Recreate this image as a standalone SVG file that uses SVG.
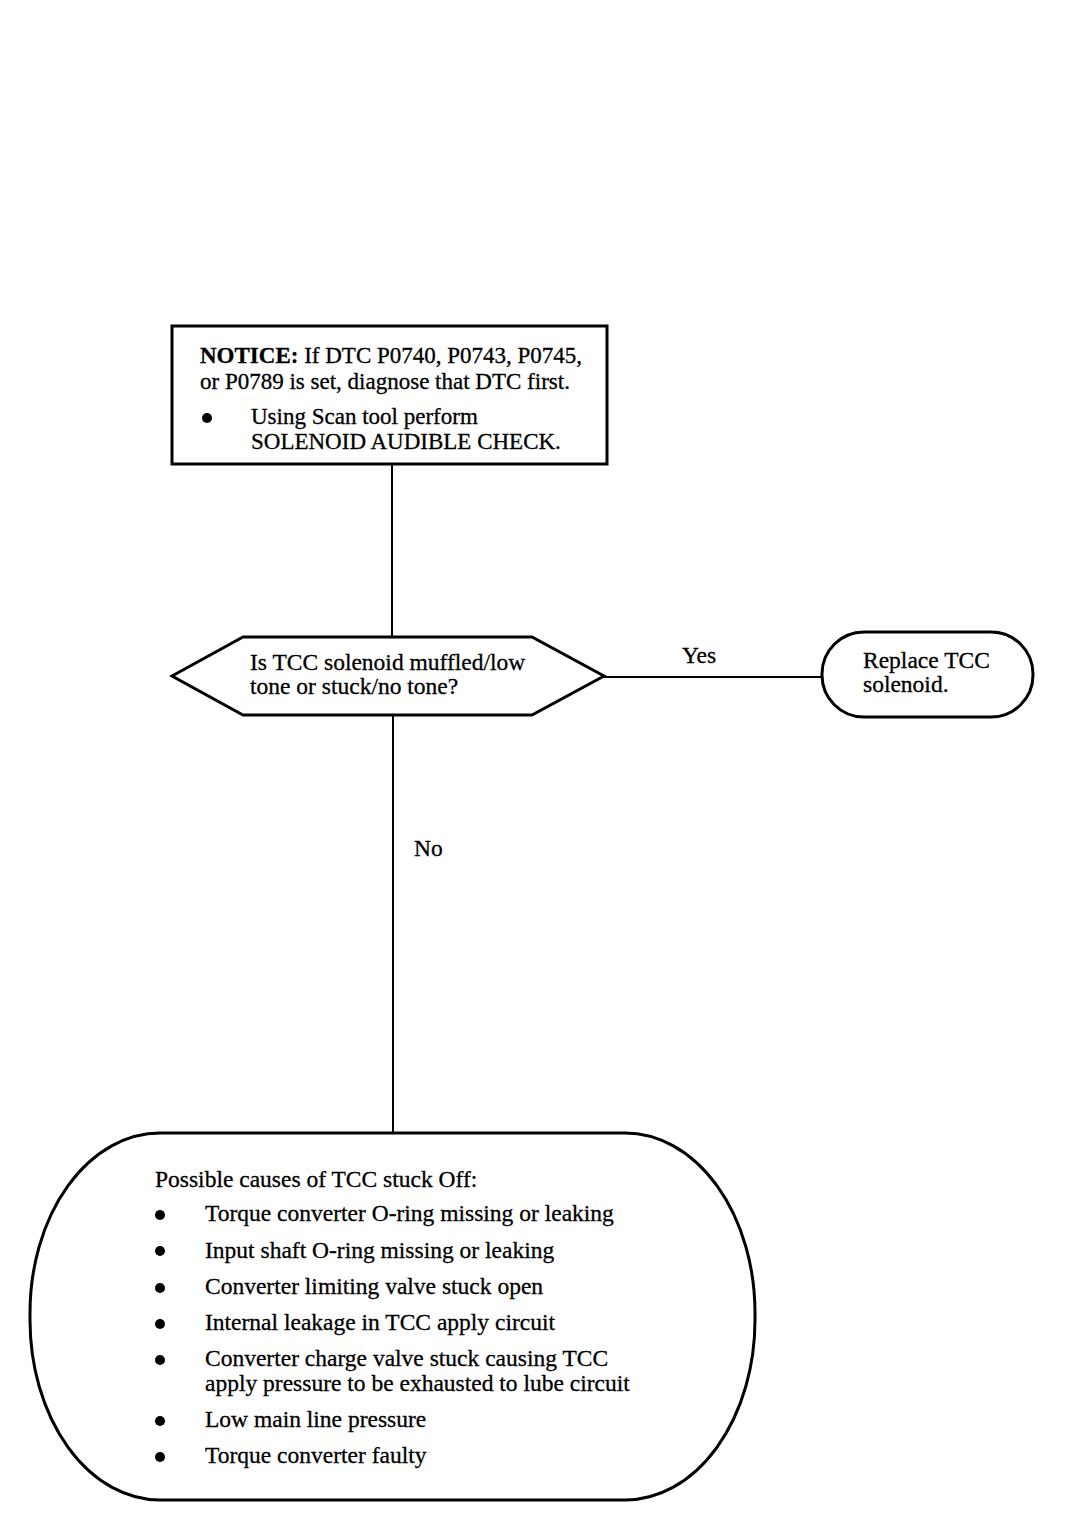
<svg xmlns="http://www.w3.org/2000/svg" width="1072" height="1520" viewBox="0 0 1072 1520">
<style>
.shape{fill:#fff;stroke:#000;stroke-width:3}
.conn{fill:none;stroke:#000;stroke-width:2}
text{font-family:"Liberation Serif","Times New Roman",serif;font-size:23.5px;fill:#000;stroke:#000;stroke-width:0.3}
.n{font-size:23px}
.b{font-weight:bold}
</style>
<rect width="1072" height="1520" fill="#fff"/>
<g id="connectors">
<line class="conn" x1="392" y1="464" x2="392" y2="637"/>
<line class="conn" x1="604" y1="677" x2="822" y2="677"/>
<line class="conn" x1="393" y1="715" x2="393" y2="1133"/>
<text x="682" y="663">Yes</text>
<text x="414" y="856">No</text>
</g>
<g id="notice">
<rect class="shape" x="172" y="326" width="435" height="138"/>
<text class="n" x="200" y="363"><tspan class="b">NOTICE:</tspan> If DTC P0740, P0743, P0745,</text>
<text class="n" x="200" y="389">or P0789 is set, diagnose that DTC first.</text>
<circle cx="207" cy="418" r="5"/>
<text class="n" x="251" y="424">Using Scan tool perform</text>
<text class="n" x="251" y="449">SOLENOID AUDIBLE CHECK.</text>
</g>
<g id="decision">
<polygon class="shape" points="172,676 243,637 532,637 604,676 532,715 243,715"/>
<text x="250" y="670">Is TCC solenoid muffled/low</text>
<text x="250" y="694">tone or stuck/no tone?</text>
</g>
<g id="replace">
<rect class="shape" x="822" y="632" width="211" height="85" rx="42" ry="42"/>
<text x="863" y="668">Replace TCC</text>
<text x="863" y="692">solenoid.</text>
</g>
<g id="causes">
<rect class="shape" x="30" y="1133" width="725" height="367" rx="130" ry="180"/>
<text x="155" y="1187">Possible causes of TCC stuck Off:</text>
<circle cx="160" cy="1215" r="5"/>
<text x="205" y="1221">Torque converter O-ring missing or leaking</text>
<circle cx="160" cy="1251" r="5"/>
<text x="205" y="1258">Input shaft O-ring missing or leaking</text>
<circle cx="160" cy="1288" r="5"/>
<text x="205" y="1294">Converter limiting valve stuck open</text>
<circle cx="160" cy="1324" r="5"/>
<text x="205" y="1330">Internal leakage in TCC apply circuit</text>
<circle cx="160" cy="1360" r="5"/>
<text x="205" y="1366">Converter charge valve stuck causing TCC</text>
<text x="205" y="1391">apply pressure to be exhausted to lube circuit</text>
<circle cx="160" cy="1421" r="5"/>
<text x="205" y="1427">Low main line pressure</text>
<circle cx="160" cy="1457" r="5"/>
<text x="205" y="1463">Torque converter faulty</text>
</g>
</svg>
